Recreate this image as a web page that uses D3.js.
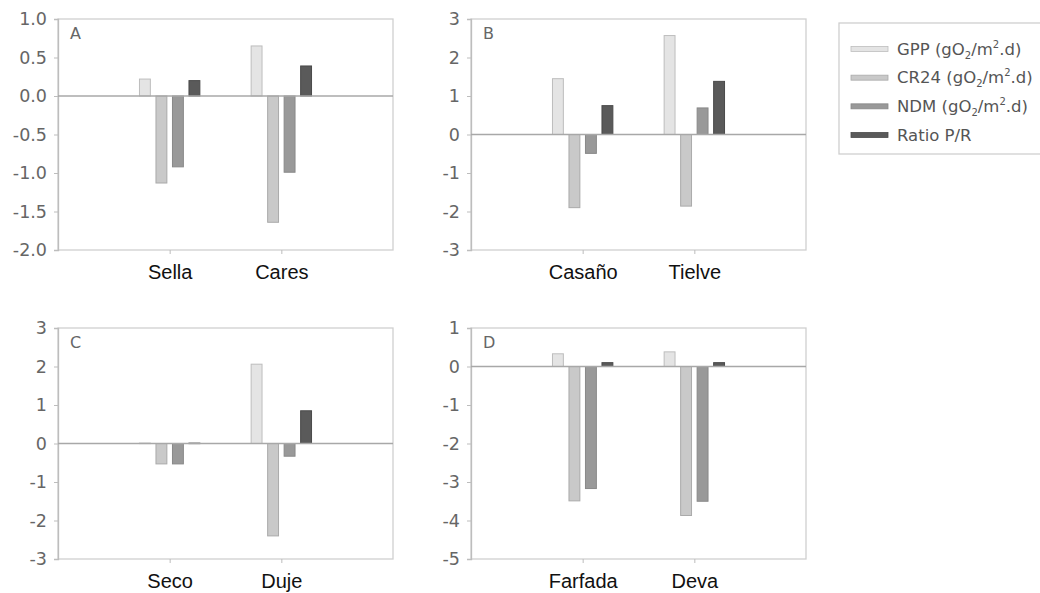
<!DOCTYPE html>
<html><head><meta charset="utf-8">
<script src="https://cdn.jsdelivr.net/npm/d3@7"></script>
<style>body{margin:0;background:#fff}svg{display:block}</style>
</head><body>
<svg id="c" width="1040" height="593"></svg>
<script>
const seriesNames = ["GPP", "CR24", "NDM", "Ratio P/R"];
const panelLetters = ["A", "B", "C", "D"];
const categoriesA = ["Sella", "Cares"];
const categoriesB = ["Casaño", "Tielve"];
const categoriesC = ["Seco", "Duje"];
const categoriesD = ["Farfada", "Deva"];
// values per category, order: GPP, CR24, NDM, Ratio P/R
const valuesA = [[0.22, -1.13, -0.92, 0.20], [0.65, -1.64, -0.99, 0.39]];
const valuesB = [[1.45, -1.90, -0.49, 0.75], [2.57, -1.86, 0.69, 1.38]];
const valuesC = [[0.01, -0.53, -0.53, 0.01], [2.06, -2.40, -0.33, 0.85]];
const valuesD = [[0.33, -3.49, -3.17, 0.10], [0.38, -3.87, -3.50, 0.10]];
const ticksA = [1.0, 0.5, 0.0, -0.5, -1.0, -1.5, -2.0];
const ticksB = [3, 2, 1, 0, -1, -2, -3];
const ticksC = [3, 2, 1, 0, -1, -2, -3];
const ticksD = [1, 0, -1, -2, -3, -4, -5];

const fills = ["#e4e4e4", "#c9c9c9", "#999999", "#5a5a5a"];
const strokes = ["#bdbdbd", "#aaaaaa", "#888888", "#4a4a4a"];

const hy = f => v => f(v).replace("\u2212", "-");
const panels = [
  {letter: panelLetters[0], cats: categoriesA, vals: valuesA, ticks: ticksA, fmt: hy(d3.format(".1f")), x0: 58, y0: 19},
  {letter: panelLetters[1], cats: categoriesB, vals: valuesB, ticks: ticksB, fmt: hy(d3.format("d")), x0: 471, y0: 19},
  {letter: panelLetters[2], cats: categoriesC, vals: valuesC, ticks: ticksC, fmt: hy(d3.format("d")), x0: 58, y0: 328},
  {letter: panelLetters[3], cats: categoriesD, vals: valuesD, ticks: ticksD, fmt: hy(d3.format("d")), x0: 471, y0: 328}
];
const W = 335, H = 231;
const svg = d3.select("#c");

panels.forEach(p => {
  const g = svg.append("g").attr("transform", `translate(${p.x0},${p.y0})`);
  const y = d3.scaleLinear().domain([d3.min(p.ticks), d3.max(p.ticks)]).range([H, 0]);
  const x = d3.scalePoint().domain(p.cats).range([0, W]).padding(1);
  const inner = d3.scaleBand().domain(seriesNames).range([-33, 33]).paddingInner(0.34).paddingOuter(0.17);

  g.append("rect").attr("x", 0).attr("y", 0).attr("width", W).attr("height", H)
    .attr("fill", "none").attr("stroke", "#d0d0d0").attr("stroke-width", 1.3);

  const ya = g.append("g").call(d3.axisLeft(y).tickValues(p.ticks).tickFormat(p.fmt).tickSize(4).tickPadding(7));
  ya.select(".domain").attr("stroke", "#bdbdbd").attr("stroke-width", 1.3);
  ya.selectAll(".tick line").attr("stroke", "#bdbdbd");
  ya.selectAll("text").attr("fill", "#666").attr("font-family", "DejaVu Sans").attr("font-size", 17.5);

  const xa = g.append("g").attr("transform", `translate(0,${H})`)
    .call(d3.axisBottom(x).tickSize(4).tickPadding(11));
  xa.select(".domain").remove();
  xa.selectAll(".tick line").attr("stroke", "#bdbdbd");
  xa.selectAll("text").attr("fill", "#111").attr("font-family", "Liberation Sans, Arial").attr("font-size", 20);

  p.cats.forEach((c, ci) => {
    p.vals[ci].forEach((v, si) => {
      const y1 = y(Math.max(0, v)), y2 = y(Math.min(0, v));
      g.append("rect")
        .attr("x", x(c) + inner(seriesNames[si]))
        .attr("y", y1)
        .attr("width", inner.bandwidth())
        .attr("height", Math.max(0.5, y2 - y1))
        .attr("fill", fills[si]).attr("stroke", strokes[si]).attr("stroke-width", 1);
    });
  });

  g.append("line").attr("x1", 0).attr("x2", W).attr("y1", y(0)).attr("y2", y(0))
    .attr("stroke", "#a8a8a8").attr("stroke-width", 1.3);

  g.append("text").attr("x", 12).attr("y", 20).text(p.letter)
    .attr("fill", "#666").attr("font-family", "DejaVu Sans").attr("font-size", 16);
});

const leg = svg.append("g");
leg.append("rect").attr("x", 839).attr("y", 23).attr("width", 210).attr("height", 131)
  .attr("fill", "#fff").attr("stroke", "#cfcfcf").attr("stroke-width", 1.3);
const legY = d3.scalePoint().domain(seriesNames).range([49, 135]);
seriesNames.forEach((s, i) => {
  const cy = legY(s);
  leg.append("rect").attr("x", 851).attr("y", cy - 2.5).attr("width", 37).attr("height", 5)
    .attr("fill", fills[i]).attr("stroke", strokes[i]).attr("stroke-width", 0.8);
  const t = leg.append("text").attr("x", 897).attr("y", cy + 5.5)
    .attr("fill", "#555").attr("font-family", "DejaVu Sans").attr("font-size", 16.5);
  if (i < 3) {
    t.append("tspan").text(s + " (gO");
    t.append("tspan").text("2").attr("font-size", 10).attr("dy", 4);
    t.append("tspan").text("/m").attr("dy", -4);
    t.append("tspan").text("2").attr("font-size", 10).attr("dy", -7);
    t.append("tspan").text(".d)").attr("dy", 7);
  } else {
    t.text(s);
  }
});
</script>
</body></html>
